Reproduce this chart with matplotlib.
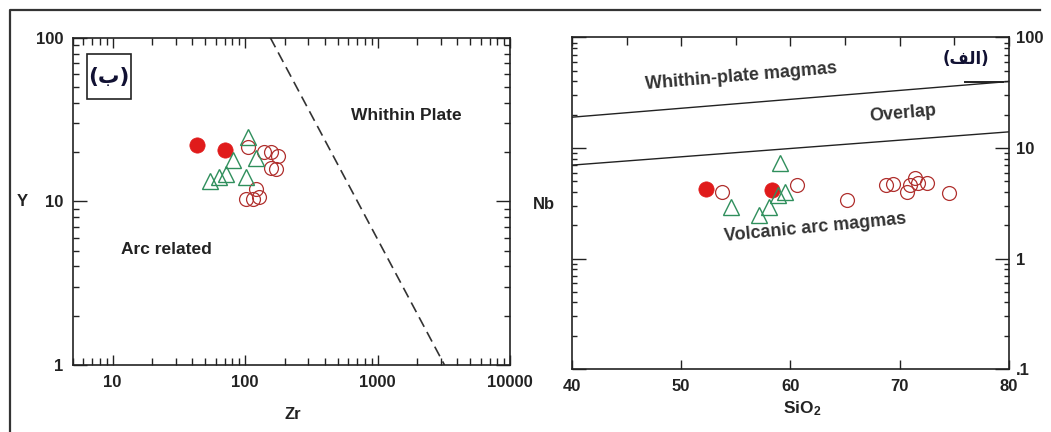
import matplotlib
matplotlib.use('Agg')
import matplotlib.pyplot as plt
from matplotlib.lines import Line2D
from matplotlib.patches import Rectangle
from matplotlib.ticker import FixedLocator, FixedFormatter, LogLocator, NullFormatter, MultipleLocator

plt.rcParams['font.family'] = ['Liberation Sans', 'DejaVu Sans']
plt.rcParams['font.weight'] = 'bold'
plt.rcParams['axes.labelweight'] = 'bold'
plt.rcParams['mathtext.fontset'] = 'custom'
plt.rcParams['mathtext.rm'] = 'Liberation Sans:bold'
plt.rcParams['mathtext.default'] = 'rm'

# --- Zr vs Y ---
zr_filled = [43, 70]
y_filled = [22.0, 20.7]
zr_tri = [105, 81, 120, 54, 63, 72, 101]
y_tri = [24.6, 17.9, 18.4, 13.4, 14.0, 14.7, 14.1]
zr_open = [105, 140, 157, 177, 157, 172, 121, 102, 114, 128]
y_open = [21.4, 19.9, 19.9, 19.0, 16.1, 15.8, 11.9, 10.3, 10.3, 10.6]
zr_bound = [155, 3200]
y_bound = [100, 1]

# --- SiO2 vs Nb ---
si_filled = [52.3, 58.3]
nb_filled = [4.3, 4.2]
si_tri = [59.05, 54.6, 57.1, 58.0, 59.5, 58.9]
nb_tri = [7.3, 2.94, 2.48, 2.94, 4.0, 3.76]
si_open = [53.7, 60.6, 65.2, 68.7, 69.4, 70.65, 70.95, 71.4, 71.7, 72.5, 74.5]
nb_open = [4.0, 4.6, 3.4, 4.6, 4.7, 4.0, 4.6, 5.3, 4.8, 4.8, 3.9]
si_edges = [40, 80]
nb_upper = [19, 40]
nb_lower = [7, 14]

RED = '#e01b1b'
DARKRED = '#b0302e'
GREEN = '#2f8f5c'
INK = '#222222'


def draw_samples(ax, xf, yf, xt, yt, xo, yo):
    ax.plot(xo, yo, 'o', ms=10, mfc='none', mec=DARKRED, mew=0.9, zorder=3)
    ax.plot(xf, yf, 'o', ms=11, mfc=RED, mec=RED, mew=0.5, zorder=4)
    ax.plot(xt, yt, '^', ms=12, mfc='none', mec=GREEN, mew=1.0, zorder=5)


def style_frame(ax):
    for s in ax.spines.values():
        s.set_linewidth(1.2)
        s.set_color(INK)


fig = plt.figure(figsize=(10.51, 4.32), dpi=100)

# outer frame of the figure
fig.add_artist(Line2D([0.0095, 0.0095, 0.99], [0.0, 0.9757, 0.9757],
                      transform=fig.transFigure, color='#333333', lw=1.6))

# left panel: Zr - Y
ax1 = fig.add_axes([0.0692, 0.1551, 0.4161, 0.7576])
ax1.set_xscale('log')
ax1.set_yscale('log')
ax1.set_xlim(5, 10000)
ax1.set_ylim(1, 100)
ax1.plot(zr_bound, y_bound, color='#333333', lw=1.2, ls=(0, (6.5, 3.5)))
draw_samples(ax1, zr_filled, y_filled, zr_tri, y_tri, zr_open, y_open)

ax1.xaxis.set_major_locator(FixedLocator([10, 100, 1000, 10000]))
ax1.xaxis.set_major_formatter(FixedFormatter(['10', '100', '1000', '10000']))
ax1.xaxis.set_minor_locator(LogLocator(base=10, subs=range(2, 10)))
ax1.xaxis.set_minor_formatter(NullFormatter())
ax1.yaxis.set_major_locator(FixedLocator([1, 10, 100]))
ax1.yaxis.set_major_formatter(FixedFormatter(['1', '10', '100']))
ax1.yaxis.set_minor_locator(LogLocator(base=10, subs=range(2, 10)))
ax1.yaxis.set_minor_formatter(NullFormatter())
ax1.tick_params(which='both', direction='in', top=True, right=True,
                color=INK, labelsize=12, labelcolor=INK, width=1.0)
ax1.tick_params(axis='x', which='major', length=7, pad=7)
ax1.tick_params(axis='x', which='minor', length=5)
ax1.tick_params(axis='y', which='major', length=10, pad=7)
ax1.tick_params(axis='y', which='minor', length=4)
style_frame(ax1)

ax1.set_xlabel('Zr', fontsize=12, color=INK)
ax1.xaxis.set_label_coords(0.504, -0.128)
ax1.set_ylabel('Y', fontsize=12, color=INK, rotation=0, va='center', ha='center')
ax1.yaxis.set_label_coords(-0.116, 0.501)

ax1.text(1660, 33.3, 'Whithin Plate', fontsize=12.5, color=INK, ha='center', va='center')
ax1.text(25.5, 5.1, 'Arc related', fontsize=12.5, color=INK, ha='center', va='center')

# boxed panel tag
ax1.add_patch(Rectangle((0.032, 0.8118), 0.1013, 0.1382, transform=ax1.transAxes,
                        fc='white', ec=INK, lw=1.2, zorder=6))
ax1.text(0.0826, 0.879, '(ب)', transform=ax1.transAxes, fontsize=15.5,
         family=['DejaVu Sans'], weight='bold', color='#111133',
         ha='center', va='center', zorder=7)

# right panel: SiO2 - Nb
ax2 = fig.add_axes([0.5442, 0.1458, 0.4158, 0.7674])
ax2.set_yscale('log')
ax2.set_xlim(40, 80)
ax2.set_ylim(0.1, 100)
ax2.plot(si_edges, nb_upper, color=INK, lw=1.0)
ax2.plot(si_edges, nb_lower, color=INK, lw=1.0)
ax2.plot([76, 79.5], [39.8, 39.8], color=INK, lw=1.4)
draw_samples(ax2, si_filled, nb_filled, si_tri, nb_tri, si_open, nb_open)

ax2.xaxis.set_major_locator(MultipleLocator(10))
ax2.xaxis.set_minor_locator(MultipleLocator(5))
ax2.yaxis.set_major_locator(FixedLocator([0.1, 1, 10, 100]))
ax2.yaxis.set_major_formatter(FixedFormatter(['.1', '1', '10', '100']))
ax2.yaxis.set_minor_locator(LogLocator(base=10, subs=range(2, 10)))
ax2.yaxis.set_minor_formatter(NullFormatter())
ax2.tick_params(which='both', direction='in', top=True, right=True,
                color=INK, labelsize=12, labelcolor=INK, width=1.0)
ax2.tick_params(axis='y', labelleft=False, labelright=True)
ax2.tick_params(axis='x', which='major', length=6.5, pad=7)
ax2.tick_params(axis='x', which='minor', length=5.5, bottom=False)
ax2.tick_params(axis='y', which='major', length=10, pad=5)
ax2.tick_params(axis='y', which='minor', length=3.5)
style_frame(ax2)

ax2.set_xlabel(r'SiO$_{2}$', fontsize=12.5, color=INK)
ax2.xaxis.set_label_coords(0.527, -0.0905)
ax2.set_ylabel('Nb', fontsize=12, color=INK, rotation=0, va='center', ha='center')
ax2.yaxis.set_label_coords(-0.063, 0.495)

ax2.text(55.5, 44, 'Whithin-plate magmas', fontsize=13, color='#333333',
         ha='center', va='center', rotation=4.8)
ax2.text(70.3, 20.6, 'Overlap', fontsize=13, color='#333333',
         ha='center', va='center', rotation=5)
ax2.text(62.3, 1.89, 'Volcanic arc magmas', fontsize=13, color='#333333',
         ha='center', va='center', rotation=5.5)
ax2.text(0.9016, 0.935, '(\ufed2\ufedf\ufe8d)', transform=ax2.transAxes,
         fontsize=12, family=['DejaVu Sans'], weight='bold', color='#111133',
         ha='center', va='center')

fig.savefig('out.png', dpi=100)
